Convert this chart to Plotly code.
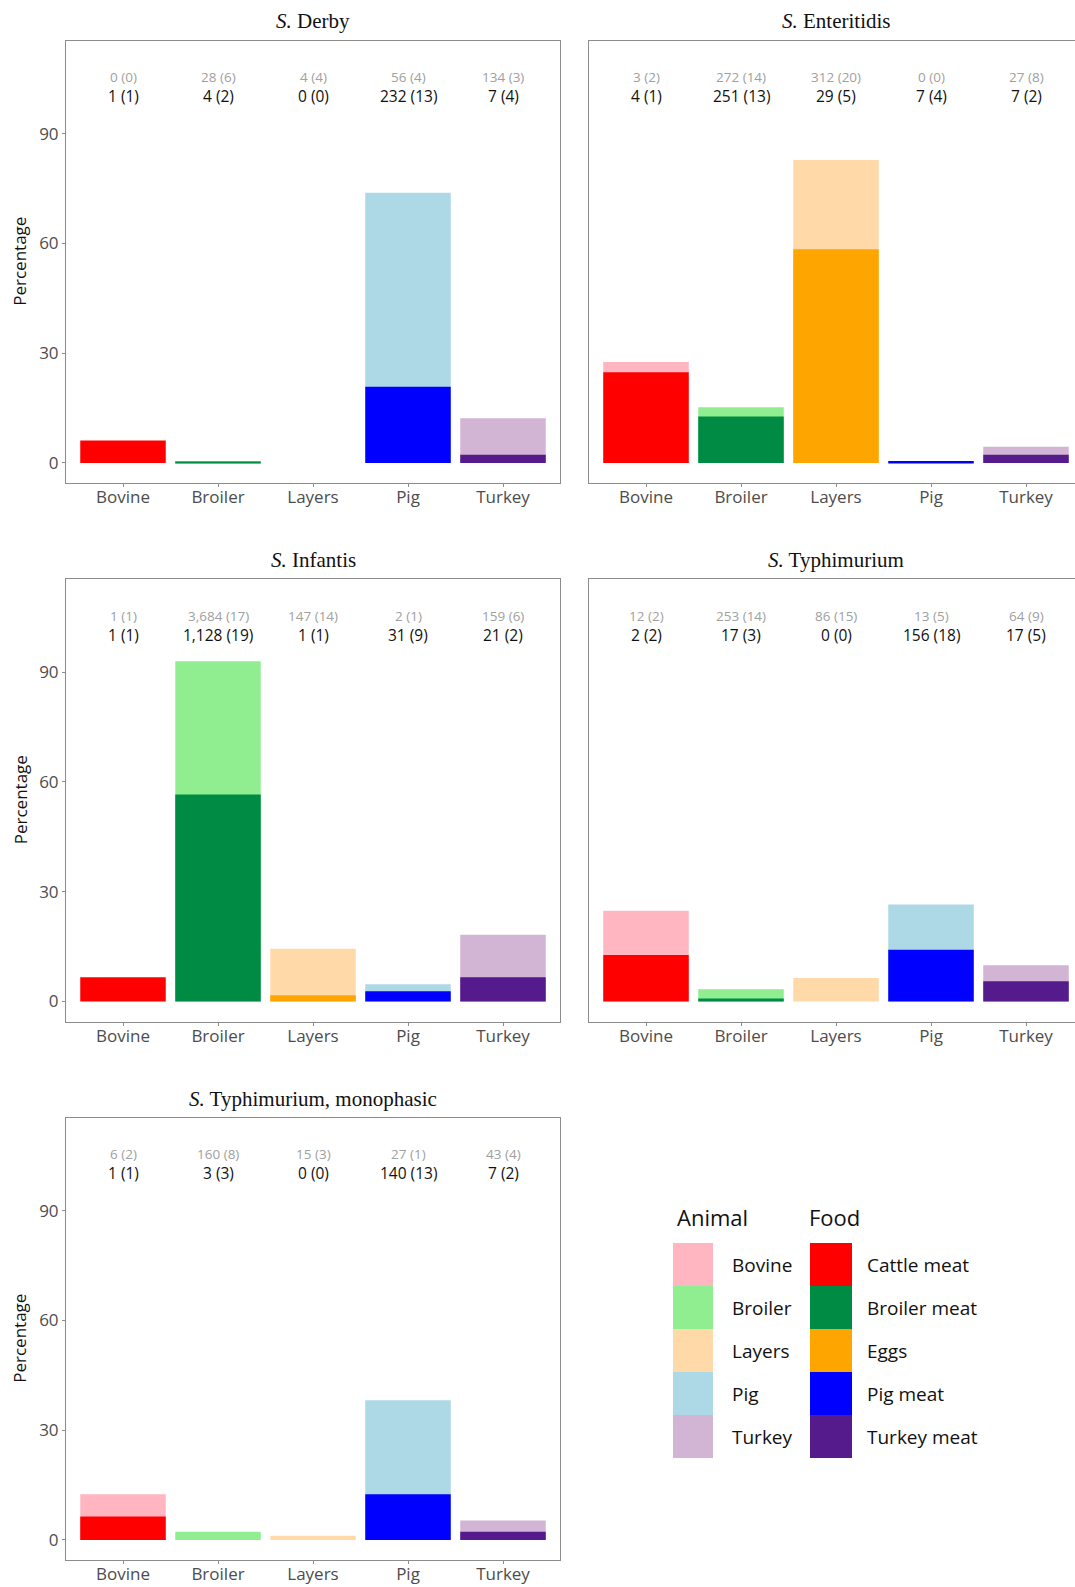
import plotly.graph_objects as go

W, H = 1075, 1587

categories = ["Bovine", "Broiler", "Layers", "Pig", "Turkey"]
serovars = ["Derby", "Enteritidis", "Infantis", "Typhimurium", "Typhimurium, monophasic"]

# percentage of isolates (animal = light bars behind, food = dark bars in front)
animal_pct = {
    "Derby":                   [0.0, 0.5, 0.0, 73.9, 12.2],
    "Enteritidis":             [27.6, 15.2, 82.8, 0.0, 4.4],
    "Infantis":                [0.0, 93.0, 14.4, 4.7, 18.2],
    "Typhimurium":             [24.8, 3.3, 6.4, 26.5, 9.9],
    "Typhimurium, monophasic": [12.5, 2.2, 1.1, 38.2, 5.3],
}
food_pct = {
    "Derby":                   [6.1, 0.25, 0.0, 20.8, 2.2],
    "Enteritidis":             [24.8, 12.7, 58.4, 0.5, 2.2],
    "Infantis":                [6.6, 56.6, 1.7, 2.8, 6.6],
    "Typhimurium":             [12.7, 0.8, 0.0, 14.1, 5.5],
    "Typhimurium, monophasic": [6.4, 0.0, 0.0, 12.5, 2.2],
}
# count labels: isolates (countries)
animal_n = {
    "Derby":                   ["0 (0)", "28 (6)", "4 (4)", "56 (4)", "134 (3)"],
    "Enteritidis":             ["3 (2)", "272 (14)", "312 (20)", "0 (0)", "27 (8)"],
    "Infantis":                ["1 (1)", "3,684 (17)", "147 (14)", "2 (1)", "159 (6)"],
    "Typhimurium":             ["12 (2)", "253 (14)", "86 (15)", "13 (5)", "64 (9)"],
    "Typhimurium, monophasic": ["6 (2)", "160 (8)", "15 (3)", "27 (1)", "43 (4)"],
}
food_n = {
    "Derby":                   ["1 (1)", "4 (2)", "0 (0)", "232 (13)", "7 (4)"],
    "Enteritidis":             ["4 (1)", "251 (13)", "29 (5)", "7 (4)", "7 (2)"],
    "Infantis":                ["1 (1)", "1,128 (19)", "1 (1)", "31 (9)", "21 (2)"],
    "Typhimurium":             ["2 (2)", "17 (3)", "0 (0)", "156 (18)", "17 (5)"],
    "Typhimurium, monophasic": ["1 (1)", "3 (3)", "0 (0)", "140 (13)", "7 (2)"],
}

animal_names = ["Bovine", "Broiler", "Layers", "Pig", "Turkey"]
food_names = ["Cattle meat", "Broiler meat", "Eggs", "Pig meat", "Turkey meat"]
animal_colors = ["#FFB6C1", "#90EE90", "#FFDAA8", "#ADD8E6", "#D2B4D4"]
food_colors = ["#FF0000", "#008B45", "#FFA500", "#0000FF", "#551A8B"]

tick_vals = [0, 30, 60, 90]
label_y_animal = 105.5
label_y_food = 100.3

SANS = "Open Sans"
SERIF = "Liberation Serif"

# panel geometry in pixels
col_x = [(66, 560), (589, 1075)]
row_y = [(40.5, 483), (579, 1021.5), (1117.5, 1560)]
cat_step = 95.0

fig = go.Figure()
layout = dict(
    width=W, height=H, margin=dict(l=0, r=0, t=0, b=0),
    paper_bgcolor="white", plot_bgcolor="white",
    barmode="overlay", showlegend=False,
    annotations=[], shapes=[],
)

for i, sv in enumerate(serovars):
    r, c = divmod(i, 2)
    k = i + 1
    xa = "x" if k == 1 else f"x{k}"
    ya = "y" if k == 1 else f"y{k}"
    x0, x1 = col_x[c]
    y0, y1 = row_y[r]
    xr = [-0.6, -0.6 + (x1 - x0) / cat_step]
    fig.add_trace(go.Bar(x=categories, y=animal_pct[sv], marker=dict(color=animal_colors, line=dict(width=0)),
                         width=0.9, xaxis=xa, yaxis=ya))
    fig.add_trace(go.Bar(x=categories, y=food_pct[sv], marker=dict(color=food_colors, line=dict(width=0)),
                         width=0.9, xaxis=xa, yaxis=ya))
    layout["xaxis" if k == 1 else f"xaxis{k}"] = dict(
        domain=[x0 / W, x1 / W], anchor=ya, type="category", categoryorder="array",
        categoryarray=categories, range=xr, showline=True, mirror=True, linecolor="#8c8c8c",
        linewidth=1, ticks="outside", ticklen=3, tickcolor="#8c8c8c", showgrid=False,
        ticklabelstandoff=-4,
        zeroline=False, tickfont=dict(family=SANS, size=17, color="#4d4d4d"), fixedrange=True,
    )
    layout["yaxis" if k == 1 else f"yaxis{k}"] = dict(
        domain=[1 - y1 / H, 1 - y0 / H], anchor=xa, range=[-5.5, 115.5],
        tickvals=tick_vals, showticklabels=(c == 0), ticks="outside" if c == 0 else "",
        ticklen=3, tickcolor="#8c8c8c", showline=True, mirror=True, linecolor="#8c8c8c",
        linewidth=1, showgrid=False, zeroline=False,
        tickfont=dict(family=SANS, size=17, color="#4d4d4d"), fixedrange=True,
    )
    # count labels
    for j, cat in enumerate(categories):
        layout["annotations"].append(dict(x=cat, y=label_y_animal, xref=xa, yref=ya, text=animal_n[sv][j],
                                          showarrow=False, font=dict(family=SANS, size=13.5, color="#a0a0a0")))
        layout["annotations"].append(dict(x=cat, y=label_y_food, xref=xa, yref=ya, text=food_n[sv][j],
                                          showarrow=False, font=dict(family=SANS, size=15.5, color="#111111")))
    # panel title
    cx = x0 + 5.2 * cat_step / 2
    layout["annotations"].append(dict(x=cx / W, y=1 - (y0 - 19) / H, xref="paper", yref="paper",
                                      text=f"<i>S.</i> {sv}", showarrow=False, xanchor="center",
                                      yanchor="middle",
                                      font=dict(family=SERIF, size=21, color="#111111")))
    if c == 0:
        layout["annotations"].append(dict(x=20 / W, y=1 - ((y0 + y1) / 2) / H, xref="paper", yref="paper",
                                          text="Percentage", textangle=-90, showarrow=False,
                                          xanchor="center", yanchor="middle",
                                          font=dict(family=SANS, size=17, color="#111111")))

# legend (drawn with shapes & text)
leg_top = 1243
key_h = 43
groups = [("Animal", animal_names, animal_colors, 673, 713, 730, 675),
          ("Food", food_names, food_colors, 810, 852, 865, 807)]
for title, names, cols, kx0, kx1, tx, ttx in groups:
    layout["annotations"].append(dict(x=ttx / W, y=1 - 1217 / H, xref="paper", yref="paper", text=title,
                                      showarrow=False, xanchor="left", yanchor="middle",
                                      font=dict(family=SANS, size=22, color="#111111")))
    for j, (nm, colr) in enumerate(zip(names, cols)):
        ya0 = leg_top + j * key_h
        layout["shapes"].append(dict(type="rect", xref="paper", yref="paper", x0=kx0 / W, x1=kx1 / W,
                                     y0=1 - (ya0 + key_h) / H, y1=1 - ya0 / H, fillcolor=colr,
                                     line=dict(width=0), layer="above"))
        layout["annotations"].append(dict(x=tx / W, y=1 - (ya0 + key_h / 2) / H, xref="paper", yref="paper",
                                          text=nm, showarrow=False, xanchor="left", yanchor="middle",
                                          font=dict(family=SANS, size=19, color="#111111")))

fig.update_layout(**layout)
fig.write_html("out.html")
